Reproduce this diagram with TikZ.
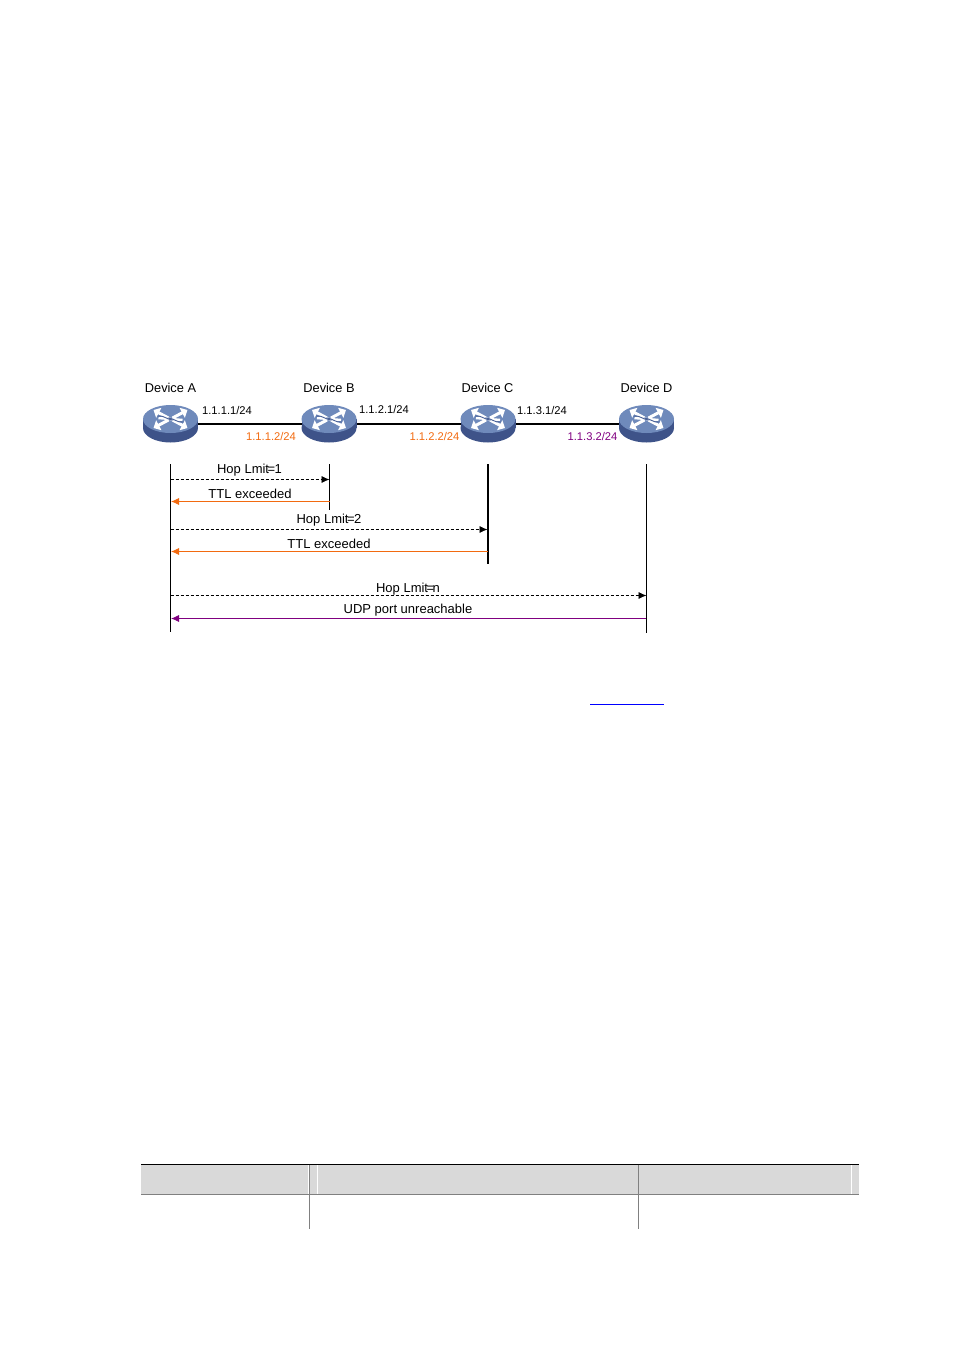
\documentclass[tikz,border=0pt]{standalone}
\usepackage{fontspec}
\setmainfont{Liberation Sans}
\usetikzlibrary{shapes.geometric,arrows.meta}
\definecolor{routertop}{HTML}{6F8ABB}
\definecolor{routerside}{HTML}{3E5389}
\definecolor{routerline}{HTML}{4A6298}
\definecolor{ttlorange}{HTML}{F26A10}
\definecolor{udppurple}{HTML}{800080}
\definecolor{headgrey}{HTML}{D9D9D9}
\tikzset{
  devlabel/.style={font=\fontsize{12.8}{15}\selectfont, inner sep=0pt},
  iplabel/.style={font=\fontsize{11.2}{13}\selectfont, inner sep=0pt},
  msglabel/.style={font=\fontsize{13}{15}\selectfont, inner sep=0pt},
  routerbody/.style={ellipse, draw=none, fill=routerside, minimum width=55pt, minimum height=29pt, inner sep=0pt},
  routerface/.style={ellipse, draw=none, fill=routertop, minimum width=55pt, minimum height=28pt, inner sep=0pt},
  routerarrow/.style={white, line width=3pt, -{Triangle[length=6pt,width=11pt]}},
  routerswirl/.style={routerline, line width=0.9pt},
  link/.style={line width=1.7pt},
  life/.style={line width=0.8pt},
  lifethick/.style={line width=1.5pt},
  probe/.style={densely dashed, line width=0.7pt, -{Latex[length=8pt,width=7pt]}},
  ttlback/.style={ttlorange, line width=0.8pt, -{Latex[length=8pt,width=7pt]}},
  udpback/.style={udppurple, line width=0.8pt, -{Latex[length=8pt,width=7pt]}},
  router/.pic={
    \node[routerbody] at (0,9) {};
    \fill[routerside] (-27.5,0) rectangle (27.5,9);
    \node[routerface] at (0,0) {};
    \draw[routerarrow] (-2,-1) -- (-17,-9);
    \draw[routerarrow] (2,-1) -- (17,-9);
    \draw[routerarrow] (-2,1) -- (-17,9);
    \draw[routerarrow] (2,1) -- (17,9);
    \draw[white, line width=2.5pt] (-12,-1) -- (12,1);
    \draw[routerswirl] (-13,-3) .. controls (-6,-4) and (-4,1) .. (3,1);
    \draw[routerswirl] (13,3) .. controls (6,4) and (4,-1) .. (-3,-1);
  }
}
\begin{document}
\begin{tikzpicture}[x=1pt,y=-1pt]
\useasboundingbox (0,0) rectangle (954,1350);
% links
\coordinate (coreA) at (170.5,424);
\coordinate (coreB) at (329,424);
\coordinate (coreC) at (488,424);
\coordinate (coreD) at (646.5,424);
\draw[link] (coreA) -- (coreB);
\draw[link] (coreB) -- (coreC);
\draw[link] (coreC) -- (coreD);
% devices
\pic at (170.5,419) {router};
\pic at (329,419) {router};
\pic at (488,419) {router};
\pic at (646.5,419) {router};
\node[devlabel] (devA) at (170.5,388) {Device A};
\node[devlabel] (devB) at (329,388) {Device B};
\node[devlabel] (devC) at (487.5,388) {Device C};
\node[devlabel] (devD) at (646.5,388) {Device D};
% addresses
\node[iplabel] (ipA1) at (227,410) {1.1.1.1/24};
\node[iplabel, ttlorange] (ipB1) at (271,436) {1.1.1.2/24};
\node[iplabel] (ipB2) at (384,409) {1.1.2.1/24};
\node[iplabel, ttlorange] (ipC1) at (434.5,436) {1.1.2.2/24};
\node[iplabel] (ipC2) at (542,410) {1.1.3.1/24};
\node[iplabel, udppurple] (ipD1) at (592.5,436) {1.1.3.2/24};
% lifelines
\coordinate (lifeAtop) at (170.5,464);
\coordinate (lifeAend) at (170.5,632);
\coordinate (lifeBtop) at (329.5,464);
\coordinate (lifeBend) at (329.5,510);
\coordinate (lifeCtop) at (488,464);
\coordinate (lifeCend) at (488,564);
\coordinate (lifeDtop) at (646.5,464);
\coordinate (lifeDend) at (646.5,633);
\draw[life] (lifeAtop) -- (lifeAend);
\draw[life] (lifeBtop) -- (lifeBend);
\draw[lifethick] (lifeCtop) -- (lifeCend);
\draw[life] (lifeDtop) -- (lifeDend);
% messages
\coordinate (m1a) at (170.5,479.5);
\coordinate (m1b) at (329.5,479.5);
\coordinate (m2b) at (329.5,501.5);
\coordinate (m2a) at (171,501.5);
\coordinate (m3a) at (170.5,529.5);
\coordinate (m3c) at (487.5,529.5);
\coordinate (m4c) at (487.5,551.5);
\coordinate (m4a) at (171,551.5);
\coordinate (m5a) at (170.5,595.5);
\coordinate (m5d) at (646.5,595.5);
\coordinate (m6d) at (645.5,618.5);
\coordinate (m6a) at (171,618.5);
\draw[probe] (m1a) -- (m1b);
\draw[ttlback] (m2b) -- (m2a);
\draw[probe] (m3a) -- (m3c);
\draw[ttlback] (m4c) -- (m4a);
\draw[probe] (m5a) -- (m5d);
\draw[udpback] (m6d) -- (m6a);
\node[msglabel] (lab1) at (249.5,470.5) {Hop Lmit\kern-1.5pt=\kern-0.5pt1};
\node[msglabel] (lab2) at (250,493.5) {TTL exceeded};
\node[msglabel] (lab3) at (329,520.5) {Hop Lmit\kern-1.5pt=\kern-0.5pt2};
\node[msglabel] (lab4) at (329,544) {TTL exceeded};
\node[msglabel] (lab5) at (408,589.5) {Hop Lmit\kern-1.5pt=\kern-1.5ptn};
\node[msglabel] (lab6) at (408,610.5) {UDP port unreachable};
% link under the figure
\draw[blue, line width=0.8pt] (590,704.5) -- (664,704.5);
% table head
\fill[headgrey] (141,1164) rectangle (859,1194);
\draw[white, line width=0.6pt] (308.5,1165) -- (308.5,1194);
\draw[white, line width=0.6pt] (317,1165) -- (317,1194);
\draw[white, line width=0.6pt] (851.5,1165) -- (851.5,1194);
\draw[black, line width=0.8pt] (141,1164.5) -- (859,1164.5);
\draw[black!50, line width=1pt] (141,1194.5) -- (859,1194.5);
\draw[black!50, line width=0.8pt] (309.5,1164.5) -- (309.5,1229);
\draw[black!50, line width=0.8pt] (638.5,1164.5) -- (638.5,1229);
\end{tikzpicture}
\end{document}
